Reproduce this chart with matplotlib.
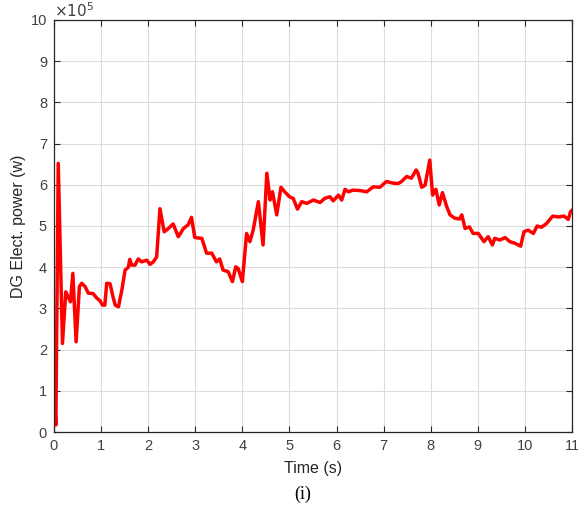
import matplotlib.pyplot as plt
from matplotlib.ticker import FuncFormatter

plt.rcParams['font.family'] = ['Liberation Sans', 'DejaVu Sans']

# time (s) and diesel generator electrical power (W)
time_s = [0.0, 0.04, 0.09, 0.18, 0.25, 0.35, 0.40, 0.47, 0.54, 0.59, 0.66, 0.73,
          0.83, 0.91, 0.98, 1.03, 1.08, 1.12, 1.19, 1.25, 1.30, 1.37, 1.44, 1.51,
          1.58, 1.61, 1.65, 1.72, 1.79, 1.86, 1.97, 2.04, 2.11, 2.18, 2.25, 2.34,
          2.43, 2.53, 2.64, 2.75, 2.85, 2.92, 2.99, 3.14, 3.24, 3.35, 3.45, 3.52,
          3.59, 3.70, 3.79, 3.86, 3.91, 4.00, 4.09, 4.16, 4.23, 4.34, 4.44, 4.52,
          4.59, 4.64, 4.73, 4.82, 4.90, 5.00, 5.08, 5.17, 5.26, 5.37, 5.51, 5.65,
          5.75, 5.86, 5.93, 6.04, 6.11, 6.18, 6.25, 6.35, 6.50, 6.64, 6.78, 6.92,
          7.06, 7.20, 7.31, 7.38, 7.49, 7.59, 7.69, 7.73, 7.81, 7.88, 7.98, 8.04,
          8.11, 8.18, 8.25, 8.34, 8.41, 8.51, 8.61, 8.66, 8.73, 8.82, 8.90, 9.01,
          9.13, 9.22, 9.31, 9.36, 9.47, 9.58, 9.68, 9.79, 9.91, 9.98, 10.07, 10.18,
          10.26, 10.35, 10.46, 10.59, 10.71, 10.83, 10.92, 10.97, 11.0]
power_w = [1.02e5, 0.17e5, 6.52e5, 2.15e5, 3.40e5, 3.16e5, 3.85e5, 2.19e5, 3.53e5,
           3.61e5, 3.53e5, 3.37e5, 3.36e5, 3.25e5, 3.18e5, 3.08e5, 3.08e5, 3.61e5,
           3.60e5, 3.30e5, 3.08e5, 3.04e5, 3.44e5, 3.93e5, 4.00e5, 4.19e5, 4.05e5,
           4.05e5, 4.20e5, 4.13e5, 4.17e5, 4.07e5, 4.13e5, 4.25e5, 5.42e5, 4.86e5,
           4.94e5, 5.05e5, 4.74e5, 4.94e5, 5.03e5, 5.21e5, 4.72e5, 4.70e5, 4.34e5,
           4.34e5, 4.13e5, 4.20e5, 3.93e5, 3.89e5, 3.65e5, 4.01e5, 3.97e5, 3.65e5,
           4.82e5, 4.62e5, 4.90e5, 5.59e5, 4.54e5, 6.28e5, 5.63e5, 5.83e5, 5.27e5,
           5.94e5, 5.83e5, 5.71e5, 5.67e5, 5.41e5, 5.59e5, 5.55e5, 5.63e5, 5.57e5,
           5.67e5, 5.71e5, 5.61e5, 5.75e5, 5.63e5, 5.89e5, 5.83e5, 5.87e5, 5.86e5,
           5.83e5, 5.95e5, 5.94e5, 6.08e5, 6.04e5, 6.03e5, 6.08e5, 6.20e5, 6.16e5,
           6.36e5, 6.28e5, 5.94e5, 5.99e5, 6.60e5, 5.75e5, 5.89e5, 5.51e5, 5.81e5,
           5.47e5, 5.27e5, 5.19e5, 5.17e5, 5.27e5, 4.94e5, 4.98e5, 4.82e5, 4.82e5,
           4.62e5, 4.74e5, 4.54e5, 4.70e5, 4.66e5, 4.72e5, 4.62e5, 4.58e5, 4.51e5,
           4.86e5, 4.90e5, 4.82e5, 5.00e5, 4.97e5, 5.06e5, 5.24e5, 5.22e5, 5.24e5,
           5.16e5, 5.35e5, 5.38e5]

x_ticks = list(range(0, 12))
y_ticks = [v * 1e5 for v in range(0, 11)]

fig = plt.figure(figsize=(5.78, 5.07), dpi=100)
ax = fig.add_axes([0.0934, 0.1479, 0.8962, 0.8127])

ax.plot(time_s, power_w, color='#ff0000', linewidth=2.5)

ax.set_xlim(0, 11)
ax.set_ylim(0, 10e5)
ax.set_xticks(x_ticks)
ax.set_yticks(y_ticks)
ax.yaxis.set_major_formatter(FuncFormatter(lambda v, _: '%g' % (v / 1e5)))
ax.grid(True, color='#dcdcdc', linewidth=0.8)
ax.set_axisbelow(True)

ax.tick_params(direction='in', top=True, right=True, length=4, width=0.8,
               labelsize=10.5, colors='#262626', labelcolor='#404040', pad=5)
for s in ax.spines.values():
    s.set_color('#262626')
    s.set_linewidth(0.9)

# exponent shown above the y axis, MATLAB style
ax.text(0.0, 1.0, r'$\times10^{5}$', transform=ax.transAxes, fontsize=11,
        color='#404040', ha='left', va='bottom')

ax.set_xlabel('Time (s)', fontsize=11.5, color='#262626', labelpad=6)
ax.set_ylabel('DG Elect. power (w)', fontsize=11.5, color='#262626', labelpad=3)

fig.text(0.5235, 0.025, '(i)', fontsize=13, family=['Liberation Serif'],
         ha='center', va='center')

fig.savefig('out.png', dpi=100)
